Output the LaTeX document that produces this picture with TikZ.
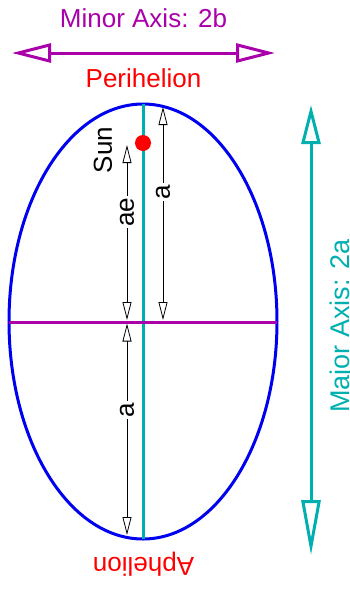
\documentclass[tikz,border=0pt]{standalone}
\usepackage{fontspec}
\setmainfont{Liberation Sans}
\usetikzlibrary{arrows.meta}
\definecolor{ellblue}{RGB}{0,0,240}
\definecolor{axteal}{RGB}{0,175,175}
\definecolor{axpurple}{RGB}{170,0,170}
\definecolor{sunred}{RGB}{255,0,0}
\tikzset{
  lbl/.style={font=\fontsize{26}{30}\selectfont, inner sep=0pt},
  dimlbl/.style={font=\fontsize{26}{30}\selectfont, fill=white, inner sep=1.5pt, rotate=90},
  dimline/.style={black, line width=0.8pt, {Triangle[length=18pt,width=9pt,fill=white]}-{Triangle[length=18pt,width=9pt,fill=white]}},
}
\begin{document}
\begin{tikzpicture}[x=1pt,y=-1pt]
\useasboundingbox (0,0) rectangle (349,590);
% coordinates
\coordinate (minL) at (12,53);
\coordinate (minR) at (275,53);
\coordinate (majT) at (311,105);
\coordinate (majB) at (311,555);
\coordinate (top) at (143,104);
\coordinate (bot) at (143,539);
\coordinate (lft) at (9,322);
\coordinate (rgt) at (277,322);
\coordinate (d1a) at (127,145);
\coordinate (d1b) at (127,320);
\coordinate (d2a) at (127,323.5);
\coordinate (d2b) at (127,535);
\coordinate (d3a) at (163,107);
\coordinate (d3b) at (163,320);
% titles
\node[lbl, text=axpurple, anchor=base] (minortxt) at (143.5,27) {Minor Axis: 2b};
\draw[axpurple, line width=3pt, {Triangle[open,length=39pt,width=19pt,fill=white]}-{Triangle[open,length=39pt,width=19pt,fill=white]}] (minL) -- (minR);
\node[lbl, text=sunred, anchor=base] (peri) at (143.5,87) {Perihelion};
\node[lbl, text=sunred, anchor=base, rotate=180] (aph) at (143.5,557) {Aphelion};
% major axis
\draw[axteal, line width=3pt, {Triangle[open,length=39pt,width=19pt,fill=white]}-{Triangle[open,length=55pt,width=19pt,fill=white]}] (majT) -- (majB);
\node[font=\fontsize{27}{31}\selectfont, inner sep=0pt, text=axteal, anchor=base, rotate=90] (majortxt) at (349.5,326) {Major Axis: 2a};
% ellipse
\draw[ellblue, line width=3pt] (143,321.5) ellipse [x radius=134, y radius=217.5];
\draw[axteal, line width=3pt] (top) -- (bot);
\draw[axpurple, line width=3pt] (lft) -- (rgt);
% dimensions
\draw[dimline] (d1a) -- (d1b);
\draw[dimline] (d2a) -- (d2b);
\draw[dimline] (d3a) -- (d3b);
\node[dimlbl] (ae) at (127,212) {ae};
\node[dimlbl] (a1) at (163,192) {a};
\node[dimlbl] (a2) at (127,410) {a};
\node[lbl, rotate=90] (sun) at (103,150) {Sun};
\fill[sunred] (143,143) circle [radius=8];
\end{tikzpicture}
\end{document}
